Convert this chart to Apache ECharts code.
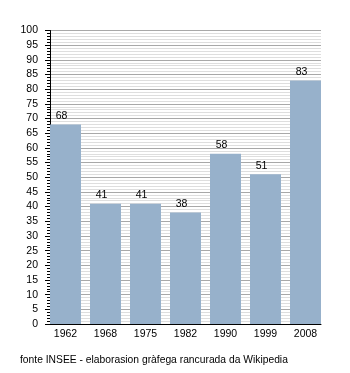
<!DOCTYPE html>
<html>
<head>
<meta charset="utf-8">
<script src="https://cdn.jsdelivr.net/npm/echarts@6/dist/echarts.min.js"></script>
<style>
  html, body { margin: 0; padding: 0; background: #ffffff; }
  #chart { width: 350px; height: 373px; }
</style>
</head>
<body>
<div id="chart"></div>
<script>
// Population by census year
const years = ['1962', '1968', '1975', '1982', '1990', '1999', '2008'];
const population = [68, 41, 41, 38, 58, 51, 83];
const yMin = 0;
const yMax = 100;
const yStep = 5;
const sourceNote = 'fonte INSEE - elaborasion gràfega rancurada da Wikipedia';

const FONT = '"Liberation Sans", Arial, sans-serif';
const plotTop = 30.5;
const plotHeight = 293.5;

const chart = echarts.init(document.getElementById('chart'), null, { renderer: 'canvas' });

chart.setOption({
  animation: false,
  backgroundColor: '#ffffff',
  textStyle: { fontFamily: FONT },
  grid: [
    // frame with the value scale and the gridlines
    { left: 50, top: plotTop, width: 271, height: plotHeight, containLabel: false },
    // bars laid out on 40px category slots
    { left: 45.5, top: plotTop, width: 280, height: plotHeight, containLabel: false }
  ],
  xAxis: [
    {
      gridIndex: 0,
      type: 'category',
      data: years,
      axisLine: { show: true, lineStyle: { color: '#000000', width: 1 } },
      axisTick: { show: false },
      axisLabel: { show: false },
      splitLine: { show: false }
    },
    {
      gridIndex: 1,
      type: 'category',
      data: years,
      axisLine: { show: false },
      axisTick: { show: false },
      axisLabel: { color: '#000000', fontSize: 10.5, fontFamily: FONT, margin: 5 },
      splitLine: { show: false }
    }
  ],
  yAxis: [
    {
      gridIndex: 0,
      type: 'value',
      min: yMin,
      max: yMax,
      interval: yStep,
      axisLine: { show: true, lineStyle: { color: '#000000', width: 1 } },
      axisTick: { show: true, inside: false, length: 5, lineStyle: { color: '#000000' } },
      minorTick: { show: true, splitNumber: 5, length: 3, lineStyle: { color: '#000000' } },
      axisLabel: { color: '#000000', fontSize: 10.5, fontFamily: FONT, margin: 12 },
      splitLine: { show: true, lineStyle: { color: '#a8a8a8', width: 1 } },
      minorSplitLine: { show: true, lineStyle: { color: '#dedede', width: 1 } }
    },
    {
      gridIndex: 1,
      type: 'value',
      min: yMin,
      max: yMax,
      show: false,
      splitLine: { show: false }
    }
  ],
  series: [
    {
      type: 'bar',
      xAxisIndex: 1,
      yAxisIndex: 1,
      data: population,
      barWidth: 31,
      itemStyle: { color: '#97b1cb' },
      label: {
        show: true,
        position: 'top',
        distance: 3,
        offset: [-4, 0],
        color: '#000000',
        fontSize: 10.5,
        fontFamily: FONT
      }
    }
  ],
  graphic: [
    {
      type: 'text',
      left: 20,
      top: 355,
      style: {
        text: sourceNote,
        fill: '#000000',
        font: '10.3px ' + FONT
      }
    }
  ]
});
</script>
</body>
</html>
